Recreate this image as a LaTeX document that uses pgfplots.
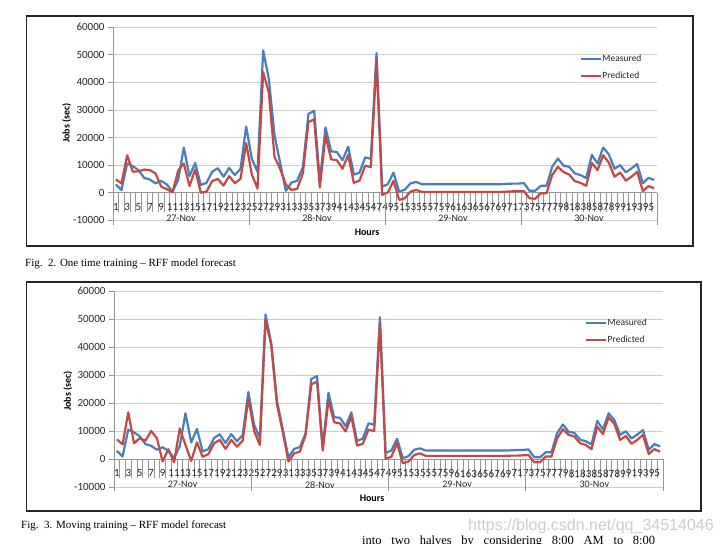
\documentclass[border=0pt]{standalone}
\usepackage{pgfplots}
\pgfplotsset{compat=1.18}
\usepackage{pgfplotstable}
\usepackage{fontspec}
\setmainfont{Carlito}
\newfontfamily\timesfont{Liberation Serif}
\newfontfamily\arialfont{Liberation Sans}
\definecolor{meas}{RGB}{74,126,187}
\definecolor{pred}{RGB}{190,75,72}
\definecolor{gridc}{RGB}{205,205,205}
\definecolor{axc}{RGB}{150,150,150}

\pgfplotstableread{
i meas p1 p2
1 3000 4800 7100
2 1000 3400 5300
3 10600 13600 16700
4 9600 7600 5700
5 8200 7800 7500
6 5400 8400 6600
7 4800 8200 10100
8 3400 7000 7500
9 4300 2200 -800
10 3000 1300 3600
11 400 100 -1100
12 4600 8000 11000
13 16400 10600 5100
14 6000 2400 -600
15 10800 8400 6000
16 2800 0 900
17 3600 400 1800
18 7600 4200 5700
19 8900 5000 6900
20 5800 2600 3700
21 9000 6000 6900
22 6400 3500 4500
23 8600 5000 6600
24 24000 18000 21700
25 12300 6600 10100
26 7600 1500 5100
27 51600 43700 49600
28 41300 36300 40700
29 20900 13000 19400
30 10800 8600 9900
31 700 3000 -800
32 3700 1000 2100
33 4300 1400 2700
34 9200 7000 8700
35 28600 25700 26700
36 29700 26600 27700
37 4300 1900 3100
38 23700 20800 21100
39 15000 12100 13200
40 14800 11800 12800
41 11800 8700 9900
42 16700 13700 15200
43 6600 3600 4900
44 7300 4400 5500
45 12800 9800 10500
46 12300 9300 10100
47 50700 47800 48500
48 2200 -800 100
49 3100 100 900
50 7300 4300 5700
51 400 -2600 -1400
52 1100 -2000 -800
53 3400 400 1500
54 3900 1000 2100
55 3100 300 1200
56 3100 300 1200
57 3100 300 1200
58 3100 300 1200
59 3100 300 1200
60 3100 300 1200
61 3100 300 1200
62 3100 300 1200
63 3100 300 1200
64 3100 300 1200
65 3100 300 1200
66 3100 300 1200
67 3100 300 1200
68 3100 300 1200
69 3100 300 1200
70 3200 400 1300
71 3300 500 1300
72 3300 500 1400
73 3500 600 1500
74 700 -2000 -1100
75 700 -2200 -1100
76 2500 -200 1000
77 2500 -200 1000
78 9400 6400 7500
79 12400 9400 10700
80 9800 7500 8700
81 9400 6600 8100
82 7000 4200 5700
83 6400 3600 5100
84 5300 2500 3600
85 13700 10800 11600
86 10600 8200 9000
87 16400 13600 15000
88 13900 10900 12600
89 8700 5800 6900
90 10000 7300 8300
91 7400 4400 5500
92 8800 5800 6900
93 10400 7600 8700
94 3400 600 1900
95 5400 2400 3600
96 4600 1600 2700
}\rffdata

\tikzset{
  daylab/.style={font=\fontsize{10}{12}\selectfont, text=black!85, yshift=-25.5pt},
  sepline/.style={axc, line width=0.6pt},
}

\pgfplotsset{
  rff/.style={
    scale only axis,
    clip=false,
    xmin=0.5, xmax=96.5, ymin=-10000, ymax=60000,
    axis x line*=middle, axis y line*=left,
    axis line style={axc, line width=0.8pt},
    scaled y ticks=false,
    ytick={-10000,0,10000,20000,30000,40000,50000,60000},
    yticklabels={-10000,0,10000,20000,30000,40000,50000,60000},
    xtick={1,3,...,95},
    minor xtick={0.5,1.5,...,96.5},
    tick align=outside,
    major tick length=5pt,
    minor tick length=19pt,
    major x tick style={draw=none},
    minor x tick style={axc, line width=0.6pt},
    ytick style={axc, line width=0.8pt},
    ymajorgrids, grid style={gridc, line width=0.8pt},
    /pgf/number format/assume math mode=true,
    xticklabel style={font=\fontsize{11}{12}\selectfont, yshift=-2pt, inner xsep=0pt},
    yticklabel style={font=\fontsize{11}{12}\selectfont},
    tick label style={text=black!85},
    label style={font=\bfseries\fontsize{10}{12}\selectfont},
    ylabel={Jobs (sec)},
    xlabel={Hours},
    legend cell align=left,
    legend image code/.code={\draw[#1, line width=2pt] (0pt,0pt) -- (20pt,0pt);},
    legend style={at={(0.858,0.86)}, anchor=north west, draw=none, fill=none,
      inner sep=0pt, row sep=8pt, font=\fontsize{9.5}{11}\selectfont,
      nodes={inner sep=0.5pt, text=black!85}},
    every axis plot/.append style={line width=2.2pt, line join=round},
  },
}

\begin{document}
\begin{tikzpicture}[x=1pt,y=1pt]
\path[use as bounding box] (0,0) rectangle (721,544);
\clip (0,0) rectangle (721,544);
\fill[white] (0,0) rectangle (721,544);

% ---------- Fig. 2 ----------
\draw[line width=1.3pt, black!85] (26.5,528) rectangle (693,298);
\begin{axis}[rff, at={(113pt,323.7pt)}, anchor=south west, width=544pt, height=193pt,
  ylabel style={at={(axis description cs:-0.085,0.504)}, anchor=center},
  xlabel style={at={(axis description cs:0.467,-0.061)}, anchor=center}]
\addplot[meas] table[x=i,y=meas]{\rffdata};
\addlegendentry{Measured}
\addplot[pred] table[x=i,y=p1]{\rffdata};
\addlegendentry{Predicted}
\draw[sepline] (axis cs:0.5,0) -- ++(0pt,-32pt);
\draw[sepline] (axis cs:24.5,0) -- ++(0pt,-32pt);
\draw[sepline] (axis cs:48.5,0) -- ++(0pt,-32pt);
\draw[sepline] (axis cs:72.5,0) -- ++(0pt,-32pt);
\draw[sepline] (axis cs:96.5,0) -- ++(0pt,-32pt);
\node[daylab] at (axis cs:12.5,0) {27-Nov};
\node[daylab] at (axis cs:36.5,0) {28-Nov};
\node[daylab] at (axis cs:60.5,0) {29-Nov};
\node[daylab] at (axis cs:84.5,0) {30-Nov};
\end{axis}
\node[anchor=base west, inner sep=0, font=\timesfont\fontsize{11}{13}\selectfont] at (25pt,277.5pt) {Fig.\ \ 2. One time training \textendash{} RFF model forecast};

% ---------- Fig. 3 ----------
\draw[line width=1.3pt, black!85] (26.5,262) rectangle (701,33);
\begin{axis}[rff, at={(114pt,56.7pt)}, anchor=south west, width=549pt, height=196.3pt,
  ylabel style={at={(axis description cs:-0.084,0.49)}, anchor=center},
  xlabel style={at={(axis description cs:0.47,-0.055)}, anchor=center}]
\addplot[meas] table[x=i,y=meas]{\rffdata};
\addlegendentry{Measured}
\addplot[pred] table[x=i,y=p2]{\rffdata};
\addlegendentry{Predicted}
\draw[sepline] (axis cs:0.5,0) -- ++(0pt,-32pt);
\draw[sepline] (axis cs:24.5,0) -- ++(0pt,-32pt);
\draw[sepline] (axis cs:48.5,0) -- ++(0pt,-32pt);
\draw[sepline] (axis cs:72.5,0) -- ++(0pt,-32pt);
\draw[sepline] (axis cs:96.5,0) -- ++(0pt,-32pt);
\node[daylab] at (axis cs:12.5,0) {27-Nov};
\node[daylab] at (axis cs:36.5,0) {28-Nov};
\node[daylab] at (axis cs:60.5,0) {29-Nov};
\node[daylab] at (axis cs:84.5,0) {30-Nov};
\end{axis}
\node[anchor=base west, inner sep=0, font=\timesfont\fontsize{11}{13}\selectfont] at (21pt,15pt) {Fig.\ \ 3. Moving training \textendash{} RFF model forecast};

\node[anchor=base west, inner sep=0, font=\arialfont\fontsize{16}{18}\selectfont, text=black!20] at (468pt,13.5pt) {https://blog.csdn.net/qq\_34514046};
\node[anchor=base west, inner sep=0, font=\timesfont\fontsize{12.5}{14}\selectfont] at (362pt,-0.5pt) {\makebox[293pt][s]{into two halves by considering 8:00 AM to 8:00}};
\end{tikzpicture}
\end{document}
